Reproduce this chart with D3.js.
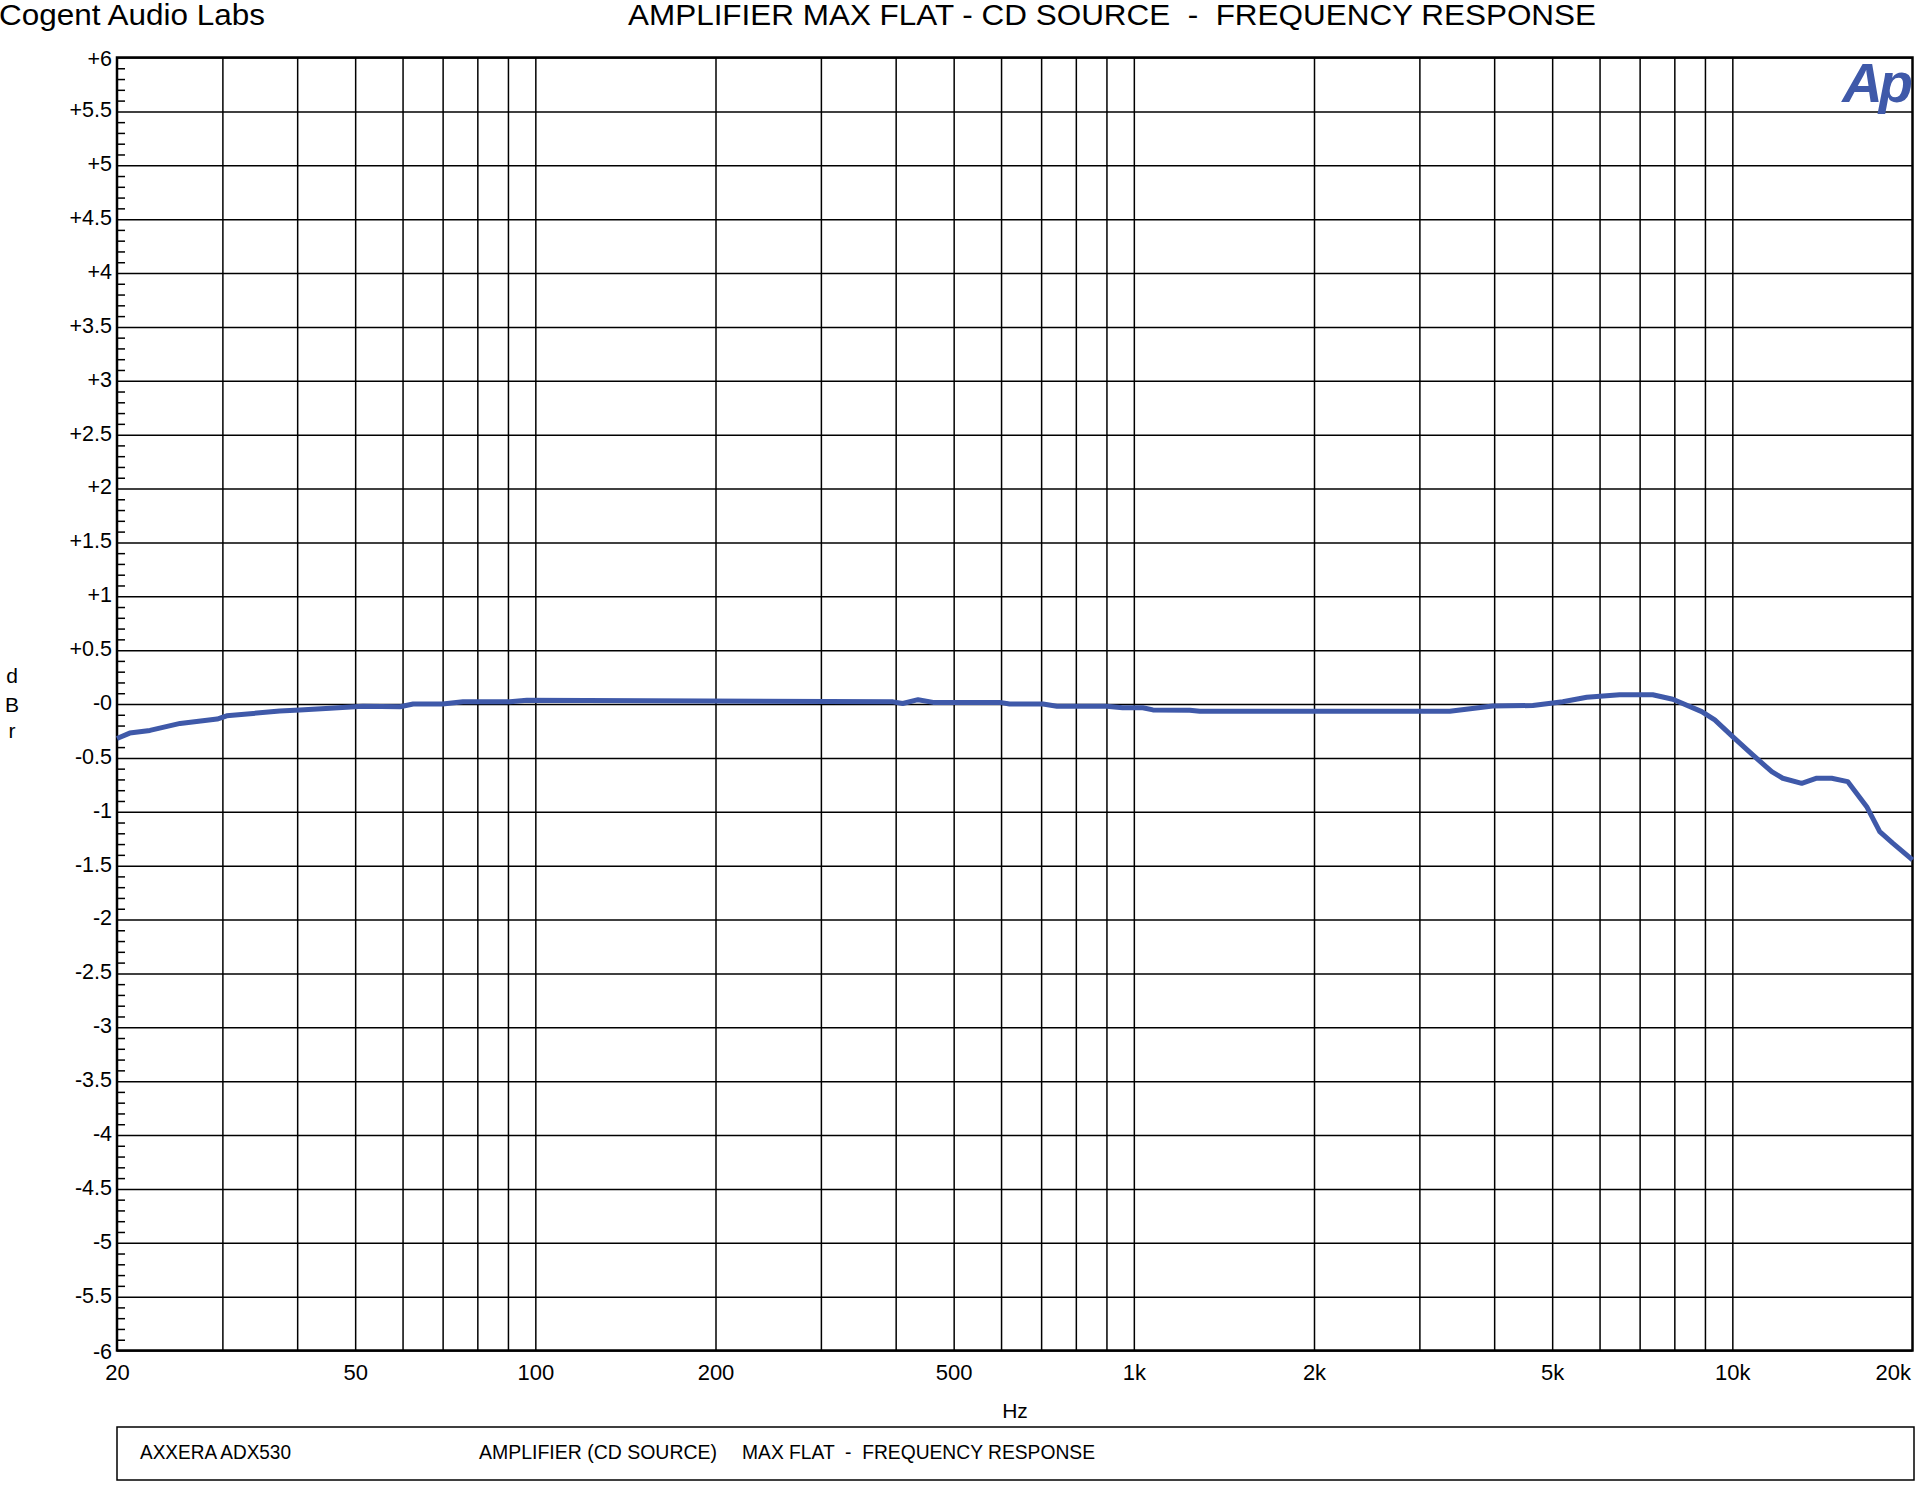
<!DOCTYPE html>
<html>
<head>
<meta charset="utf-8">
<script src="https://cdn.jsdelivr.net/npm/d3@7"></script>
<style>
  html, body { margin: 0; padding: 0; background: #fff; }
  svg { display: block; }
  text { font-family: Arial, "Liberation Sans", sans-serif; fill: #000; }
</style>
</head>
<body>
<script>
// ---- data ----
const freqHz = [20, 21, 22.7, 25.5, 29.4, 30.5, 37.4, 40.4, 45.4, 51.5, 59.4, 62.5, 70, 75.7, 90.7, 96.8,
  396, 411, 436, 462, 597, 620, 705, 744, 901, 958, 1035, 1076, 1240, 1289, 3372, 3978, 4641, 5208, 5712,
  6484, 7362, 7952, 8890, 9346, 10012, 10816, 11638, 12140, 13060, 13836, 14656, 15584, 16770, 17630, 18532, 20000];
const levelDbr = [-0.32, -0.27, -0.245, -0.18, -0.14, -0.11, -0.065, -0.056, -0.04, -0.02, -0.025, 0, 0, 0.02, 0.02, 0.035,
  0.02, 0.005, 0.04, 0.015, 0.015, 0, 0, -0.02, -0.02, -0.035, -0.035, -0.055, -0.058, -0.068, -0.068, -0.019, -0.014, 0.021, 0.062,
  0.086, 0.086, 0.044, -0.071, -0.148, -0.303, -0.473, -0.628, -0.689, -0.736, -0.689, -0.689, -0.72, -0.953, -1.185, -1.292, -1.447];

const xTickValues = [20, 50, 100, 200, 500, 1000, 2000, 5000, 10000, 20000];
const xTickLabels = ["20", "50", "100", "200", "500", "1k", "2k", "5k", "10k", "20k"];
const xGridValues = [30, 40, 50, 60, 70, 80, 90, 100, 200, 300, 400, 500, 600, 700, 800, 900,
  1000, 2000, 3000, 4000, 5000, 6000, 7000, 8000, 9000, 10000];
const yTickValues = [6, 5.5, 5, 4.5, 4, 3.5, 3, 2.5, 2, 1.5, 1, 0.5, 0, -0.5, -1, -1.5, -2, -2.5, -3, -3.5, -4, -4.5, -5, -5.5, -6];
const yTickLabels = ["+6", "+5.5", "+5", "+4.5", "+4", "+3.5", "+3", "+2.5", "+2", "+1.5", "+1", "+0.5", "-0",
  "-0.5", "-1", "-1.5", "-2", "-2.5", "-3", "-3.5", "-4", "-4.5", "-5", "-5.5", "-6"];
const yMinorValues = d3.range(-60, 61).filter(v => v % 5 !== 0).map(v => v / 10);

const headerLeft = "Cogent Audio Labs";
const title = "AMPLIFIER MAX FLAT - CD SOURCE  -  FREQUENCY RESPONSE";
const legendTexts = ["AXXERA ADX530", "AMPLIFIER (CD SOURCE)", "MAX FLAT  -  FREQUENCY RESPONSE"];

// ---- layout ----
const W = 1927, H = 1493;
const L = 117, R = 1912.5, T = 57.5, B = 1350.5;
const lineColor = "#3f59a9";

const svg = d3.select("body").append("svg").attr("width", W).attr("height", H);
svg.append("rect").attr("width", W).attr("height", H).attr("fill", "#fff");

const x = d3.scaleLog().domain([20, 20000]).range([L, R]);
const y = d3.scaleLinear().domain([-6, 6]).range([B, T]);

// vertical grid
svg.append("g").attr("transform", `translate(0,${B})`)
  .call(d3.axisBottom(x).tickValues(xGridValues).tickSize(-(B - T)).tickFormat(""))
  .call(g => g.select(".domain").remove())
  .call(g => g.selectAll("line").attr("stroke", "#000").attr("stroke-width", 1.5));

// horizontal grid
svg.append("g").attr("transform", `translate(${L},0)`)
  .call(d3.axisRight(y).tickValues(yTickValues).tickSize(R - L).tickFormat(""))
  .call(g => g.select(".domain").remove())
  .call(g => g.selectAll("line").attr("stroke", "#000").attr("stroke-width", 1.5));

// minor ticks
svg.append("g").attr("transform", `translate(${L},0)`)
  .call(d3.axisRight(y).tickValues(yMinorValues).tickSize(8).tickFormat(""))
  .call(g => g.select(".domain").remove())
  .call(g => g.selectAll("line").attr("stroke", "#000").attr("stroke-width", 1.5));

// y labels
svg.append("g").attr("transform", `translate(${L},0)`)
  .call(d3.axisLeft(y).tickValues(yTickValues).tickSize(0).tickPadding(5)
    .tickFormat((d, i) => yTickLabels[i]))
  .call(g => g.select(".domain").remove())
  .call(g => g.selectAll("text").attr("font-size", 21.5)
    .attr("dy", d => d === 6 ? "0.36em" : (d === -6 ? "0.38em" : "0.25em"))
    .attr("font-family", "Arial, 'Liberation Sans', sans-serif"));

// x labels
svg.append("g").attr("transform", `translate(0,${B})`)
  .call(d3.axisBottom(x).tickValues(xTickValues).tickSize(0).tickPadding(14)
    .tickFormat((d, i) => xTickLabels[i]))
  .call(g => g.select(".domain").remove())
  .call(g => g.selectAll("text").attr("font-size", 22)
    .attr("font-family", "Arial, 'Liberation Sans', sans-serif")
    .attr("text-anchor", d => d === 20000 ? "end" : "middle")
    .attr("dx", d => d === 20000 ? "-2" : "0"));

// plot border
svg.append("rect").attr("x", L).attr("y", T).attr("width", R - L).attr("height", B - T)
  .attr("fill", "none").attr("stroke", "#000").attr("stroke-width", 2.5);

// data line
const line = d3.line().x((d, i) => x(freqHz[i])).y(d => y(d));
svg.append("path").datum(levelDbr).attr("d", line)
  .attr("fill", "none").attr("stroke", lineColor).attr("stroke-width", 5)
  .attr("stroke-linejoin", "round").attr("stroke-linecap", "butt");

// Ap logo
svg.append("text").attr("x", 1909).attr("y", 102).attr("text-anchor", "end")
  .attr("font-size", 56).attr("font-weight", "bold").attr("font-style", "italic")
  .attr("letter-spacing", -4).style("fill", lineColor).text("Ap");

// header
svg.append("text").attr("x", -1).attr("y", 25).attr("font-size", 29)
  .attr("textLength", 266).attr("lengthAdjust", "spacingAndGlyphs").text(headerLeft);
svg.append("text").attr("x", 628).attr("y", 25).attr("font-size", 29)
  .attr("textLength", 968).attr("lengthAdjust", "spacingAndGlyphs")
  .attr("xml:space", "preserve").style("white-space", "pre").text(title);

// axis titles
svg.append("text").attr("x", 1015).attr("y", 1418).attr("font-size", 21).attr("text-anchor", "middle").text("Hz");
["d", "B", "r"].forEach((c, i) => {
  svg.append("text").attr("x", 12).attr("y", [683, 712, 738][i]).attr("font-size", 21)
    .attr("text-anchor", "middle").text(c);
});

// legend box
svg.append("rect").attr("x", 117).attr("y", 1427).attr("width", 1797).attr("height", 53)
  .attr("fill", "none").attr("stroke", "#000").attr("stroke-width", 1.5);
[[140, 0, 151], [479, 1, 238], [742, 2, 353]].forEach(([px, i, len]) => {
  svg.append("text").attr("x", px).attr("y", 1459).attr("font-size", 20)
    .attr("textLength", len).attr("lengthAdjust", "spacingAndGlyphs")
    .style("white-space", "pre").text(legendTexts[i]);
});
</script>
</body>
</html>
